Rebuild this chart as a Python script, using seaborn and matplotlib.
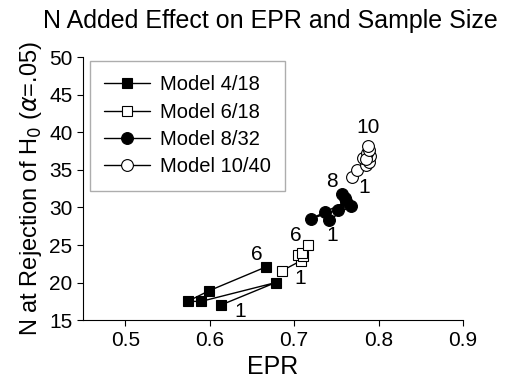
import matplotlib
matplotlib.use("Agg")
import matplotlib.pyplot as plt
import seaborn as sns
import pandas as pd

# Data (order 1..k along each model path)
m4_x = [0.613, 0.678, 0.590, 0.574, 0.599, 0.667]
m4_y = [17.0, 20.0, 17.5, 17.5, 18.9, 22.1]
m6_x = [0.686, 0.708, 0.705, 0.711, 0.709, 0.717]
m6_y = [21.6, 22.9, 23.7, 23.5, 24.0, 25.0]
m8_x = [0.741, 0.767, 0.720, 0.737, 0.762, 0.752, 0.760, 0.757]
m8_y = [28.3, 30.2, 28.5, 29.4, 30.8, 29.7, 31.3, 31.8]
m10_x = [0.769, 0.775, 0.785, 0.789, 0.782, 0.790, 0.786, 0.785, 0.789, 0.787]
m10_y = [34.1, 35.0, 35.7, 36.1, 36.6, 36.8, 37.2, 36.4, 37.6, 38.2]
models = ["Model 4/18", "Model 6/18", "Model 8/32", "Model 10/40"]
x_ticks = [0.5, 0.6, 0.7, 0.8, 0.9]
y_ticks = [15, 20, 25, 30, 35, 40, 45, 50]

sns.set_style("ticks")
plt.rcParams['font.family'] = ['Liberation Sans', 'DejaVu Sans']
plt.rcParams['text.color'] = 'black'
plt.rcParams['axes.labelcolor'] = 'black'
plt.rcParams['xtick.color'] = 'black'
plt.rcParams['ytick.color'] = 'black'

fig = plt.figure(figsize=(5.06, 3.83), dpi=100)
ax = fig.add_axes([0.164, 0.164, 0.751, 0.687])

series = [
    (m4_x, m4_y, 's', 'black', 7),
    (m6_x, m6_y, 's', 'white', 7),
    (m8_x, m8_y, 'o', 'black', 8.5),
    (m10_x, m10_y, 'o', 'white', 8.5),
]
for name, (xs, ys, mk, fc, ms) in zip(models, series):
    df = pd.DataFrame({"EPR": xs, "N": ys, "order": range(len(xs))})
    sns.lineplot(data=df, x="EPR", y="N", sort=False, estimator=None, ax=ax,
                 color="black", linewidth=1, marker=mk, markersize=ms,
                 markerfacecolor=fc, markeredgecolor="black", markeredgewidth=0.8,
                 label=name)

# point labels
lab_fs = 15
ax.text(0.636, 16.1, "1", fontsize=lab_fs, ha="center", va="center")
ax.text(0.656, 23.7, "6", fontsize=lab_fs, ha="center", va="center")
ax.text(0.707, 20.6, "1", fontsize=lab_fs, ha="center", va="center")
ax.text(0.702, 26.3, "6", fontsize=lab_fs, ha="center", va="center")
ax.text(0.745, 26.3, "1", fontsize=lab_fs, ha="center", va="center")
ax.text(0.745, 33.4, "8", fontsize=lab_fs, ha="center", va="center")
ax.text(0.783, 32.6, "1", fontsize=lab_fs, ha="center", va="center")
ax.text(0.787, 40.6, "10", fontsize=lab_fs, ha="center", va="center")

ax.set_xlim(0.45, 0.9)
ax.set_ylim(15, 50)
ax.set_xticks(x_ticks)
ax.set_xticklabels([f"{t:.1f}" for t in x_ticks])
ax.set_yticks(y_ticks)
ax.tick_params(labelsize=15, direction="out", length=4, width=0.8, colors="black")
for s in ["top", "right"]:
    ax.spines[s].set_visible(False)
for s in ["left", "bottom"]:
    ax.spines[s].set_linewidth(0.8)
    ax.spines[s].set_color("black")

ax.set_xlabel("EPR", fontsize=18, labelpad=4)
ax.set_ylabel(r"N at Rejection of H$_0$ ($\alpha$=.05)", fontsize=17, labelpad=4)
fig.text(0.534, 0.945, "N Added Effect on EPR and Sample Size", fontsize=18,
         ha="center", va="center")

leg = ax.legend(loc="upper left", bbox_to_anchor=(0.018, 0.985), fontsize=14.5,
                frameon=True, fancybox=False, edgecolor="#999999",
                handlelength=2.3, handletextpad=0.5, labelspacing=0.42,
                borderpad=0.7, borderaxespad=0)
leg.get_frame().set_linewidth(1.0)
for t in leg.get_texts():
    t.set_color("black")

fig.savefig("out.png", dpi=100)
